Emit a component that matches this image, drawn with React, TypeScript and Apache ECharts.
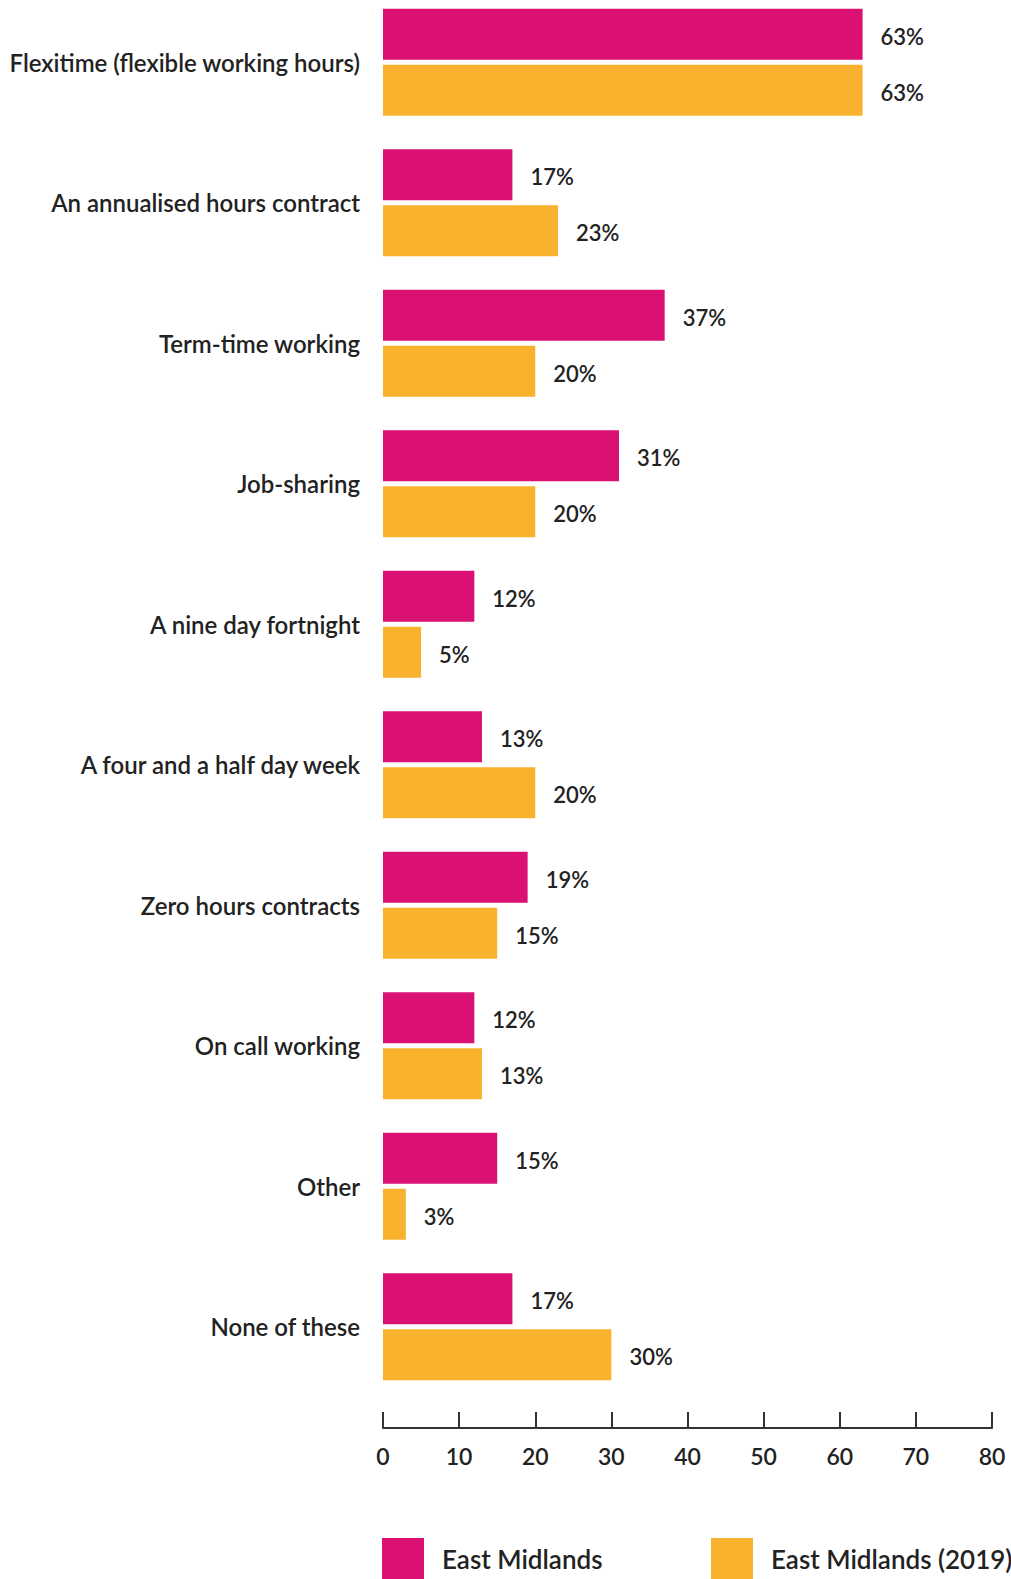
import React, { useEffect, useRef } from "react";
import * as echarts from "echarts";

const categories = [
  "Flexitime (flexible working hours)",
  "An annualised hours contract",
  "Term-time working",
  "Job-sharing",
  "A nine day fortnight",
  "A four and a half day week",
  "Zero hours contracts",
  "On call working",
  "Other",
  "None of these",
];
const eastMidlands = [63, 17, 37, 31, 12, 13, 19, 12, 15, 17];
const eastMidlands2019 = [63, 23, 20, 20, 5, 20, 15, 13, 3, 30];
const seriesNames = ["East Midlands", "East Midlands (2019)"];
const xTicks = [0, 10, 20, 30, 40, 50, 60, 70, 80];

const FONT = "Lato";
const TEXT = "#222222";
const SHIFT = 8;

export default function App() {
  const ref = useRef<HTMLDivElement>(null);
  useEffect(() => {
    document.body.style.margin = "0";
    const chart = echarts.init(ref.current!, null, { renderer: "svg" });
    const labelCfg = {
      show: true,
      position: "right" as const,
      distance: 18,
      offset: [0, 2],
      formatter: "{c}%",
      color: TEXT,
      fontFamily: FONT,
      fontSize: 22,
      fontWeight: 600,
    };
    const legendBase = {
      top: 1538 + SHIFT,
      padding: 0,
      itemWidth: 42,
      itemHeight: 42,
      icon: "rect",
      textStyle: {
        color: TEXT,
        fontFamily: FONT,
        fontSize: 26,
        fontWeight: 600,
        padding: [9, 0, 0, 13],
      },
    };
    chart.setOption({
      animation: false,
      textStyle: { fontFamily: FONT },
      grid: { left: 383, right: 19, top: 0, height: 1405, containLabel: false },
      legend: [
        { ...legendBase, left: 382, data: [seriesNames[0]] },
        { ...legendBase, left: 711, data: [seriesNames[1]] },
      ],
      xAxis: {
        type: "value",
        min: xTicks[0],
        max: xTicks[xTicks.length - 1],
        interval: 10,
        offset: 31,
        axisLine: { show: true, lineStyle: { color: "#333333", width: 2 } },
        axisTick: { show: true, inside: true, length: 16, lineStyle: { color: "#333333", width: 2 } },
        splitLine: { show: false },
        axisLabel: {
          color: TEXT,
          fontFamily: FONT,
          fontSize: 23,
          fontWeight: 600,
          margin: 16,
        },
      },
      yAxis: {
        type: "category",
        inverse: true,
        data: categories,
        axisLine: { show: false },
        axisTick: { show: false },
        axisLabel: {
          color: TEXT,
          fontFamily: FONT,
          fontSize: 24,
          fontWeight: 600,
          margin: 23,
        },
      },
      series: [
        {
          name: seriesNames[0],
          type: "bar",
          data: eastMidlands,
          itemStyle: { color: "#DA1072" },
          barGap: "10%",
          barCategoryGap: "23.7%",
          label: labelCfg,
        },
        {
          name: seriesNames[1],
          type: "bar",
          data: eastMidlands2019,
          itemStyle: { color: "#F9B22E" },
          barGap: "10%",
          barCategoryGap: "23.7%",
          label: labelCfg,
        },
      ],
    });
    return () => chart.dispose();
  }, []);
  return <div ref={ref} style={{ width: 1011, height: 1579 + SHIFT, marginTop: -SHIFT }} />;
}
